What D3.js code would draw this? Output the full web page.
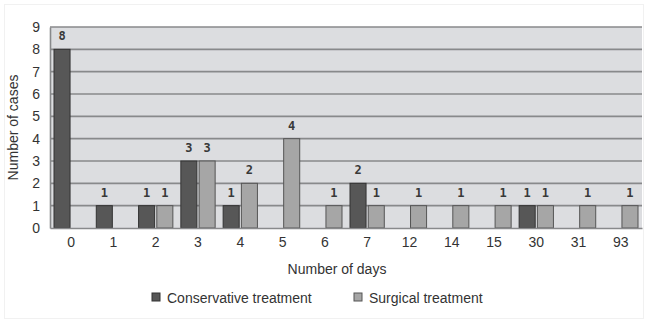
<!DOCTYPE html>
<html>
<head>
<meta charset="utf-8">
<script src="https://cdn.jsdelivr.net/npm/d3@7"></script>
<style>
  html, body { margin: 0; padding: 0; background: #fff; }
  svg { display: block; }
</style>
</head>
<body>
<svg id="chart" width="645" height="320"></svg>
<script>
// Days until outcome, by treatment group
const categories = ["0", "1", "2", "3", "4", "5", "6", "7", "12", "14", "15", "30", "31", "93"];
const conservative = [8, 1, 1, 3, 1, 0, 0, 2, 0, 0, 0, 1, 0, 0];
const surgical = [0, 0, 1, 3, 2, 4, 1, 1, 1, 1, 1, 1, 1, 1];
const seriesNames = ["Conservative treatment", "Surgical treatment"];
const yTicks = [0, 1, 2, 3, 4, 5, 6, 7, 8, 9];

const svg = d3.select("#chart");
const W = 645, H = 320;
const m = { left: 50, right: 3, top: 27, bottom: 92 };
const fillC = "#575757", strokeC = "#333";
const fillS = "#a6a6a6", strokeS = "#555";
const font = "Liberation Sans, Arial, sans-serif";

// faint figure frame
svg.append("rect").attr("x", 4.5).attr("y", 4.5).attr("width", W - 6).attr("height", H - 6)
  .attr("fill", "none").attr("stroke", "#f1f1f1");

const x0 = d3.scaleBand().domain(categories).range([m.left, W - m.right]);
const x1 = d3.scaleBand().domain(seriesNames).range([4, x0.bandwidth() - 4]).paddingInner(0.12);
const y = d3.scaleLinear().domain([0, 9]).range([H - m.bottom, m.top]);

// plot background
svg.append("rect")
  .attr("x", m.left).attr("y", y(9))
  .attr("width", W - m.right - m.left).attr("height", y(0) - y(9))
  .attr("fill", "#dcdde0");

// horizontal gridlines
svg.append("g").selectAll("line").data(yTicks.filter(d => d > 0)).join("line")
  .attr("x1", m.left).attr("x2", W - m.right)
  .attr("y1", d => y(d)).attr("y2", d => y(d))
  .attr("stroke", "#88898b").attr("stroke-width", 1.6);

// y axis
const yAxis = svg.append("g").attr("transform", `translate(${m.left},0)`)
  .call(d3.axisLeft(y).tickValues(yTicks).tickSize(0).tickPadding(10));
yAxis.select(".domain").attr("stroke", "#88898b").attr("stroke-width", 1.6);
yAxis.selectAll("text").attr("font-family", font)
  .attr("font-size", 14).attr("fill", "#333");

// bars
const rows = categories.map((c, i) => ({ cat: c, vals: [conservative[i], surgical[i]] }));
const groups = svg.append("g").selectAll("g").data(rows).join("g")
  .attr("transform", d => `translate(${x0(d.cat)},0)`);

groups.selectAll("rect").data(d => d.vals.map((v, k) => ({ v, k })).filter(e => e.v > 0)).join("rect")
  .attr("x", e => x1(seriesNames[e.k]))
  .attr("width", x1.bandwidth())
  .attr("y", e => y(e.v))
  .attr("height", e => y(0) - y(e.v))
  .attr("fill", e => e.k === 0 ? fillC : fillS)
  .attr("stroke", e => e.k === 0 ? strokeC : strokeS)
  .attr("stroke-width", 1);

// value labels
groups.selectAll("text").data(d => d.vals.map((v, k) => ({ v, k })).filter(e => e.v > 0)).join("text")
  .attr("x", e => x1(seriesNames[e.k]) + x1.bandwidth() / 2)
  .attr("y", e => y(e.v) - 9)
  .attr("text-anchor", "middle")
  .attr("font-family", "DejaVu Sans Mono, monospace")
  .attr("font-weight", "bold")
  .attr("font-size", 12)
  .attr("fill", "#383838")
  .text(e => e.v);

// x axis
const xAxis = svg.append("g").attr("transform", `translate(0,${y(0)})`)
  .call(d3.axisBottom(x0).tickSize(0).tickPadding(9));
xAxis.select(".domain").attr("stroke", "#88898b").attr("stroke-width", 1.6);
xAxis.selectAll("text").attr("font-family", font)
  .attr("font-size", 14).attr("fill", "#333");

// axis titles
svg.append("text")
  .attr("transform", `translate(18,${(y(0) + y(9)) / 2}) rotate(-90)`)
  .attr("text-anchor", "middle")
  .attr("font-family", font)
  .attr("font-size", 14).attr("fill", "#333")
  .text("Number of cases");

svg.append("text")
  .attr("x", 337).attr("y", 274)
  .attr("text-anchor", "middle")
  .attr("font-family", font)
  .attr("font-size", 14).attr("fill", "#333")
  .text("Number of days");

// legend
const legendX = [152, 354];
const legend = svg.append("g").selectAll("g").data(seriesNames).join("g")
  .attr("transform", (d, i) => `translate(${legendX[i]},293)`);
legend.append("rect").attr("width", 8).attr("height", 8)
  .attr("fill", (d, i) => i === 0 ? fillC : fillS)
  .attr("stroke", (d, i) => i === 0 ? strokeC : strokeS);
legend.append("text").attr("x", 15).attr("y", 9.5)
  .attr("font-family", font)
  .attr("font-size", 14).attr("fill", "#333")
  .text(d => d);
</script>
</body>
</html>
